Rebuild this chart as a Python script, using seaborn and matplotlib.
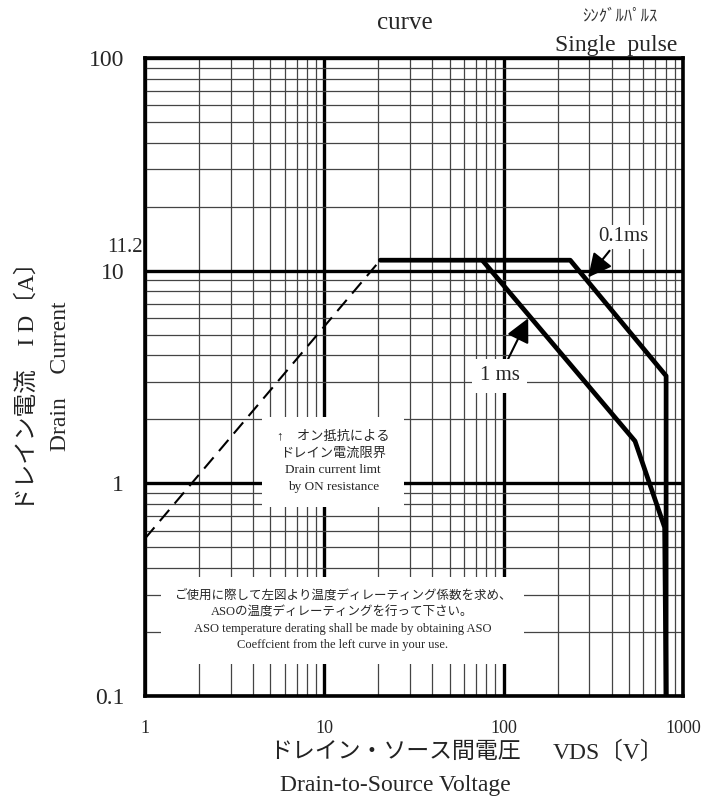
import matplotlib
matplotlib.use("Agg")
import matplotlib.pyplot as plt
import matplotlib.ticker as mticker
import seaborn as sns

# ASO (safe operating area) curve, single pulse

# on-resistance limit (dashed)
v_ron = [1, 20.5]
i_ron = [0.55, 11.2]

# 0.1 ms curve
v_01ms = [20.5, 235, 805, 805]
i_01ms = [11.2, 11.2, 3.2, 0.1]

# 1 ms curve
v_1ms = [76, 540, 790, 805]
i_1ms = [11.2, 1.58, 0.62, 0.1]

x_ticks = [1, 10, 100, 1000]
x_ticklabels = ["1", "10", "100", "1000"]
y_ticks = [0.1, 1, 10, 100]
y_ticklabels = ["0.1", "1", "10", "100"]

sns.set_style("white")
plt.rcParams['font.family'] = ['Liberation Serif', 'Noto Sans CJK JP']

fig = plt.figure(figsize=(7.24, 8.02), dpi=100)
ax = fig.add_axes([145 / 724, 1 - 696 / 802, 538 / 724, 638 / 802])

ax.set_xscale("log")
ax.set_yscale("log")
ax.set_xlim(1, 1000)
ax.set_ylim(0.1, 100)

# grid
ax.xaxis.set_minor_locator(mticker.LogLocator(base=10, subs=range(2, 10)))
ax.yaxis.set_minor_locator(mticker.LogLocator(base=10, subs=range(2, 10)))
ax.xaxis.set_minor_formatter(mticker.NullFormatter())
ax.yaxis.set_minor_formatter(mticker.NullFormatter())
ax.grid(which="minor", color="#444444", lw=0.9, zorder=0)
ax.grid(which="major", color="black", lw=2.4, zorder=0)
ax.set_axisbelow(True)
for s in ax.spines.values():
    s.set_linewidth(2.6)
    s.set_color("black")

ax.set_xticks(x_ticks)
ax.set_xticklabels(x_ticklabels, fontsize=13)
ax.set_yticks(y_ticks)
ax.set_yticklabels(y_ticklabels, fontsize=17)
ax.tick_params(axis="x", which="both", length=0, pad=17)
ax.tick_params(axis="y", which="both", length=0, pad=15)
ax.tick_params(which="minor", length=0)

# curves
sns.lineplot(x=v_ron, y=i_ron, ax=ax, color="black", lw=1.5,
             linestyle=(0, (7, 4)), sort=False, estimator=None, zorder=5)
sns.lineplot(x=v_01ms, y=i_01ms, ax=ax, color="black", lw=3.4,
             sort=False, estimator=None, zorder=6)
sns.lineplot(x=v_1ms, y=i_1ms, ax=ax, color="black", lw=3.4,
             sort=False, estimator=None, zorder=6)

# 11.2 label
ax.text(-0.005, 12.9, "11.2", transform=ax.get_yaxis_transform(),
        ha="right", va="center", fontsize=15)

# annotations
ax.annotate("1 ms", xy=(137, 5.97), xytext=(95, 3.2),
            ha="center", va="center", fontsize=15,
            bbox=dict(boxstyle="square,pad=0.35", fc="white", ec="none"),
            arrowprops=dict(arrowstyle="-|>,head_length=0.9,head_width=0.45",
                            mutation_scale=16, color="black", lw=1.5,
                            shrinkA=0, shrinkB=0, relpos=(0.62, 1.0)),
            zorder=8)
ax.annotate("0.1ms", xy=(296, 9.3), xytext=(463, 14.4),
            ha="center", va="center", fontsize=15,
            bbox=dict(boxstyle="square,pad=0.1", fc="white", ec="none"),
            arrowprops=dict(arrowstyle="-|>,head_length=0.9,head_width=0.45",
                            mutation_scale=16, color="black", lw=1.5,
                            shrinkA=2, shrinkB=0, relpos=(0.3, 0.0)),
            zorder=8)

ax.text(11.2, 1.26, "↑\u3000オン抵抗による\nドレイン電流限界\nDrain current limt\nby ON resistance",
        ha="center", va="center", fontsize=9.5, linespacing=1.5,
        bbox=dict(boxstyle="square,pad=1.1", fc="white", ec="none"), zorder=7)

ax.text(12.6, 0.227,
        "ご使用に際して左図より温度ディレーティング係数を求め、\n"
        "ASOの温度ディレーティングを行って下さい。\n"
        "ASO temperature derating shall be made by obtaining ASO\n"
        "Coeffcient from the left curve in your use.",
        ha="center", va="center", fontsize=9, linespacing=1.5,
        bbox=dict(boxstyle="square,pad=1.0", fc="white", ec="none"), zorder=7)

# titles
fig.text(405 / 724, 1 - 23 / 802, "curve", ha="center", va="center", fontsize=18)
fig.text(620 / 724, 1 - 16 / 802, "ｼﾝｸﾞﾙﾊﾟﾙｽ", ha="center", va="center",
         fontsize=12, color="#333333", family=['Noto Sans CJK JP'])
fig.text(616 / 724, 1 - 45 / 802, "Single  pulse", ha="center", va="center", fontsize=17)

# axis labels
fig.text(27 / 724, 1 - 381 / 802, "ドレイン電流\u3000I D〔A〕", rotation=90,
         ha="center", va="center", fontsize=17, color="#222222")
fig.text(60 / 724, 1 - 376 / 802, "Drain\u3000Current", rotation=90,
         ha="center", va="center", fontsize=17)
fig.text(395 / 724, 1 - 752 / 802, "ドレイン・ソース間電圧", ha="center", va="center",
         fontsize=16.5, color="#222222")
fig.text(608 / 724, 1 - 752 / 802, "VDS〔V〕", ha="center", va="center", fontsize=17)
fig.text(395 / 724, 1 - 785 / 802, "Drain-to-Source Voltage", ha="center", va="center",
         fontsize=17)

fig.savefig("out.png", dpi=100)
